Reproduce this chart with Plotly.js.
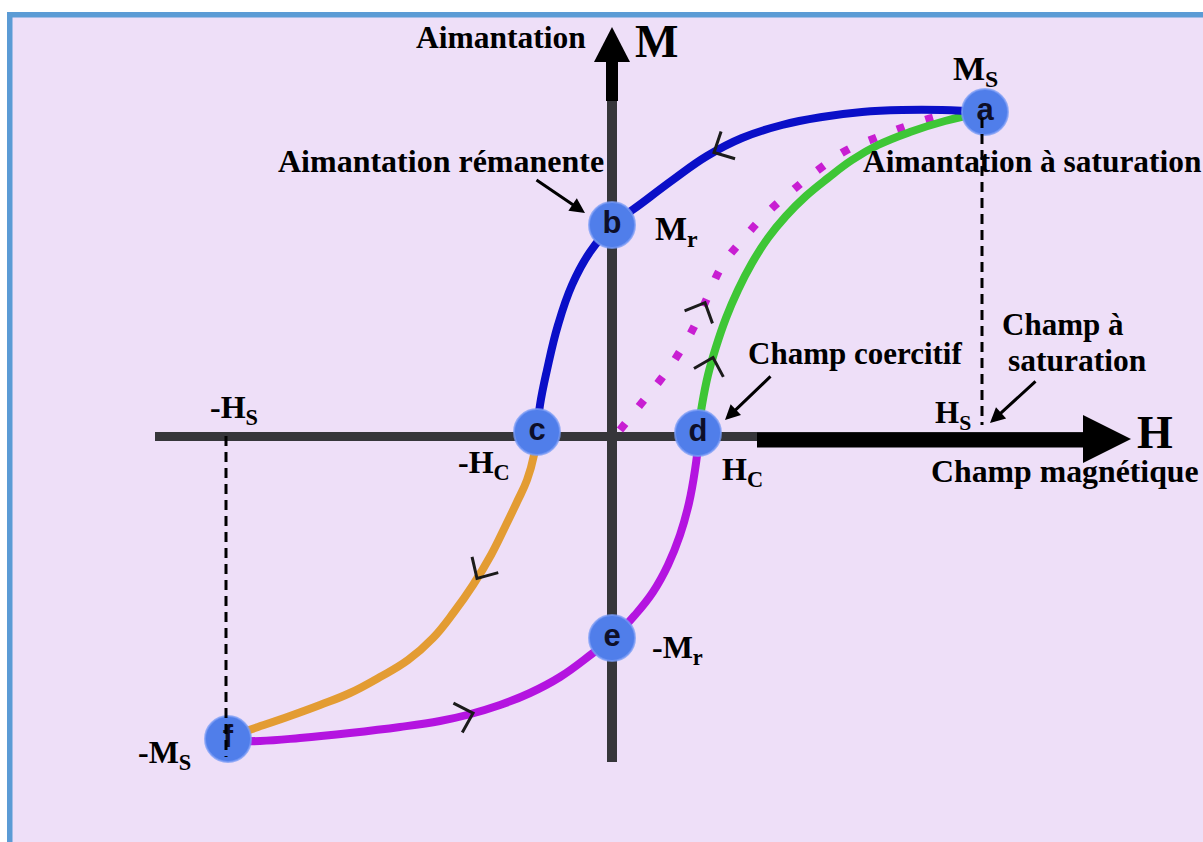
<!DOCTYPE html>
<html>
<head>
<meta charset="utf-8">
<script src="https://cdn.plot.ly/plotly-3.0.1.min.js"></script>
<style>
  html, body { margin: 0; padding: 0; background: #ffffff; }
  #chart { width: 1203px; height: 842px; }
</style>
</head>
<body>
<div id="chart"></div>
<script>
// ---------------- DATA (H = champ, M = aimantation, diagram units) ----------------
const pointLabels = ['a', 'b', 'c', 'd', 'e', 'f'];
const pointH = [3.73, 0.00, -0.75, 0.86, 0.00, -3.84];
const pointM = [3.24, 2.11, 0.04, 0.03, -2.02, -3.03];

// a -> b -> c (descending branch, blue)
const blueH = [3.73, 3.30, 2.90, 2.50, 2.10, 1.70, 1.30, 0.95, 0.62, 0.30, 0.00, -0.22, -0.40, -0.54, -0.65, -0.72, -0.75];
const blueM = [3.24, 3.26, 3.26, 3.24, 3.19, 3.11, 2.98, 2.80, 2.57, 2.33, 2.10, 1.84, 1.51, 1.11, 0.66, 0.31, 0.04];

// c -> f (orange)
const orangeH = [-0.75, -0.78, -0.85, -0.95, -1.07, -1.21, -1.39, -1.58, -1.79, -2.04, -2.32, -2.62, -2.92, -3.22, -3.54, -3.84];
const orangeM = [0.04, -0.19, -0.44, -0.66, -0.91, -1.19, -1.49, -1.76, -2.02, -2.24, -2.41, -2.57, -2.69, -2.80, -2.91, -3.01];

// f -> e -> d (magenta)
const magentaH = [-3.84, -3.52, -3.12, -2.62, -2.12, -1.72, -1.45, -1.12, -0.82, -0.52, -0.19, 0.03, 0.23, 0.41, 0.56, 0.68, 0.77, 0.83, 0.86, 0.86];
const magentaM = [-3.05, -3.05, -3.02, -2.97, -2.91, -2.85, -2.79, -2.69, -2.57, -2.41, -2.17, -2.00, -1.79, -1.56, -1.29, -0.99, -0.67, -0.34, -0.09, 0.03];

// d -> a (green)
const greenH = [0.86, 0.90, 0.96, 1.04, 1.14, 1.26, 1.40, 1.56, 1.74, 1.94, 2.16, 2.40, 2.66, 2.98, 3.33, 3.73];
const greenM = [0.03, 0.31, 0.61, 0.89, 1.18, 1.46, 1.73, 1.98, 2.20, 2.40, 2.58, 2.76, 2.91, 3.04, 3.15, 3.24];

// first magnetisation curve O -> a (dotted)
const firstH = [0.08, 0.28, 0.49, 0.67, 0.83, 0.96, 1.10, 1.32, 1.55, 1.81, 2.06, 2.35, 2.66, 2.98, 3.31, 3.58];
const firstM = [0.06, 0.31, 0.57, 0.83, 1.11, 1.40, 1.70, 1.98, 2.23, 2.46, 2.66, 2.86, 2.99, 3.11, 3.21, 3.26];

// saturation guide lines (Hs and -Hs)
const satPlusH = [3.70, 3.70];
const satPlusM = [3.18, 0.11];
const satMinusH = [-3.86, -3.86];
const satMinusM = [0.00, -3.21];

// direction marks (H position along each branch)
const markBlueH = 1.02;
const markGreenH = 1.01;
const markFirstH = 0.93;
const markOrangeH = -1.35;
const markMagentaH = -1.39;

// ---------------- helpers ----------------
const PX = x => (x - 612) / 100;   // layout helper: pixel -> H
const PY = y => (436 - y) / 100;   // layout helper: pixel -> M

function chevron(h, arrH, arrM) {
  let x = arrH[0], y = arrM[0], dx = 1, dy = 0;
  for (let i = 0; i < arrH.length - 1; i++) {
    const a = arrH[i], b = arrH[i + 1];
    if ((a - h) * (b - h) <= 0 && a !== b) {
      const t = (h - a) / (b - a);
      x = a + t * (b - a);
      y = arrM[i] + t * (arrM[i + 1] - arrM[i]);
      dx = b - a; dy = arrM[i + 1] - arrM[i];
      break;
    }
  }
  const ang = Math.atan2(dy, dx);
  const back = ang + Math.PI;
  const half = 44 * Math.PI / 180;
  const L = 22;
  const p1x = (L * Math.cos(back + half)).toFixed(2), p1y = (L * Math.sin(back + half)).toFixed(2);
  const p2x = (L * Math.cos(back - half)).toFixed(2), p2y = (L * Math.sin(back - half)).toFixed(2);
  return {
    type: 'path', xref: 'x', yref: 'y', xsizemode: 'pixel', ysizemode: 'pixel',
    xanchor: x, yanchor: y,
    path: `M${p1x},${p1y} L0,0 L${p2x},${p2y}`,
    line: { color: '#1b1b1b', width: 3 }, layer: 'above'
  };
}

// ---------------- traces ----------------
const curveWidth = 8;
const sm = 1.2;
const traces = [
  { x: firstH, y: firstM, mode: 'lines', line: { color: '#C81ED2', width: 8, dash: '8px,22px', shape: 'spline', smoothing: sm }, hoverinfo: 'skip' },
  { x: greenH, y: greenM, mode: 'lines', line: { color: '#3EC636', width: curveWidth, shape: 'spline', smoothing: sm }, hoverinfo: 'skip' },
  { x: blueH, y: blueM, mode: 'lines', line: { color: '#0A0FC8', width: curveWidth, shape: 'spline', smoothing: sm }, hoverinfo: 'skip' },
  { x: orangeH, y: orangeM, mode: 'lines', line: { color: '#E39C33', width: curveWidth, shape: 'spline', smoothing: sm }, hoverinfo: 'skip' },
  { x: magentaH, y: magentaM, mode: 'lines', line: { color: '#B414E0', width: curveWidth, shape: 'spline', smoothing: sm }, hoverinfo: 'skip' },
  { x: pointH, y: pointM, mode: 'markers+text', text: pointLabels, textposition: 'middle center',
    textfont: { family: 'Liberation Sans, Arial, sans-serif', size: 31, color: '#0e0f28', weight: 'bold' },
    marker: { size: 46, color: '#507EEA', line: { color: 'rgba(120,155,245,0.75)', width: 2 } }, hoverinfo: 'skip' },
  { x: satPlusH, y: satPlusM, mode: 'lines', line: { color: '#000000', width: 3, dash: '10px,6px' }, hoverinfo: 'skip' },
  { x: satMinusH, y: satMinusM, mode: 'lines', line: { color: '#000000', width: 3, dash: '10px,6px' }, hoverinfo: 'skip' }
];

// ---------------- shapes (frame, axes, arrows) ----------------
const axisGray = '#36363a';
const shapes = [
  { type: 'rect', xref: 'x', yref: 'y', x0: PX(-5), x1: PX(1210), y0: PY(12), y1: PY(-5), fillcolor: '#ffffff', line: { width: 0 }, layer: 'below' },
  { type: 'rect', xref: 'x', yref: 'y', x0: PX(-5), x1: PX(7), y0: PY(850), y1: PY(-5), fillcolor: '#ffffff', line: { width: 0 }, layer: 'below' },
  { type: 'rect', xref: 'x', yref: 'y', x0: PX(7), x1: PX(1210), y0: PY(17.5), y1: PY(12), fillcolor: '#5B9BD5', line: { width: 0 }, layer: 'below' },
  { type: 'rect', xref: 'x', yref: 'y', x0: PX(7), x1: PX(12.5), y0: PY(850), y1: PY(12), fillcolor: '#5B9BD5', line: { width: 0 }, layer: 'below' },
  { type: 'line', xref: 'x', yref: 'y', x0: PX(155), x1: PX(1085), y0: PY(436.5), y1: PY(436.5), line: { color: axisGray, width: 9 }, layer: 'below' },
  { type: 'line', xref: 'x', yref: 'y', x0: PX(757), x1: PX(1086), y0: PY(440), y1: PY(440), line: { color: '#000000', width: 15 }, layer: 'below' },
  { type: 'path', xref: 'x', yref: 'y', path: `M${PX(1083)},${PY(415)} L${PX(1131)},${PY(439)} L${PX(1083)},${PY(463)} Z`, fillcolor: '#000000', line: { width: 0 }, layer: 'below' },
  { type: 'line', xref: 'x', yref: 'y', x0: PX(612), x1: PX(612), y0: PY(762), y1: PY(98), line: { color: axisGray, width: 10 }, layer: 'below' },
  { type: 'line', xref: 'x', yref: 'y', x0: PX(612), x1: PX(612), y0: PY(101), y1: PY(60), line: { color: '#000000', width: 12 }, layer: 'below' },
  { type: 'path', xref: 'x', yref: 'y', path: `M${PX(594)},${PY(62)} L${PX(612)},${PY(27)} L${PX(630)},${PY(62)} Z`, fillcolor: '#000000', line: { width: 0 }, layer: 'below' },
  chevron(markBlueH, blueH, blueM),
  chevron(markGreenH, greenH, greenM),
  chevron(markFirstH, firstH, firstM),
  chevron(markOrangeH, orangeH, orangeM),
  chevron(markMagentaH, magentaH, magentaM)
];

// ---------------- text labels ----------------
const serif = 'Liberation Serif, Times New Roman, serif';
function label(text, left, baseline, size) {
  return {
    text: text, xref: 'x', yref: 'y', x: PX(left), y: PY(baseline - 0.891 * size),
    xanchor: 'left', yanchor: 'top', showarrow: false, borderpad: 0, borderwidth: 0,
    font: { family: serif, size: size, color: '#000000', weight: 'bold' }
  };
}
function pointer(tailX, tailY, headX, headY) {
  return {
    text: '', xref: 'x', yref: 'y', axref: 'x', ayref: 'y',
    x: PX(headX), y: PY(headY), ax: PX(tailX), ay: PY(tailY),
    showarrow: true, arrowhead: 2, arrowsize: 1, arrowwidth: 3, arrowcolor: '#000000', standoff: 0, startstandoff: 0
  };
}
const annotations = [
  label('Aimantation', 416, 48, 31.5),
  label('M', 635, 57, 46),
  label('M<sub>S</sub>', 953, 80, 34),
  label('Aimantation rémanente', 278, 172, 32),
  label('Aimantation à saturation', 863, 172, 31.4),
  label('M<sub>r</sub>', 655, 240, 34),
  label('Champ coercitif', 748, 364, 31),
  label('Champ à', 1002, 335, 31),
  label('saturation', 1008, 371, 31.5),
  label('H<sub>S</sub>', 935, 423, 31),
  label('H', 1137, 448, 46),
  label('Champ magnétique', 931, 482, 31.8),
  label('H<sub>C</sub>', 722, 480, 32),
  label('-H<sub>C</sub>', 458, 473, 32),
  label('-H<sub>S</sub>', 210, 418, 32),
  label('-M<sub>S</sub>', 138, 763, 32),
  label('-M<sub>r</sub>', 652, 658, 32),
  pointer(535, 179, 585, 213),
  pointer(772, 375, 725, 420),
  pointer(1037, 380, 990, 423)
];

const layout = {
  width: 1203, height: 842,
  margin: { l: 0, r: 0, t: 0, b: 0, pad: 0 },
  paper_bgcolor: '#ffffff', plot_bgcolor: '#EEDFF8',
  showlegend: false,
  xaxis: { range: [-6.12, 5.91], visible: false, fixedrange: true },
  yaxis: { range: [-4.06, 4.36], visible: false, fixedrange: true },
  shapes: shapes,
  annotations: annotations
};

Plotly.newPlot('chart', traces, layout, { displayModeBar: false, staticPlot: true });
</script>
</body>
</html>
